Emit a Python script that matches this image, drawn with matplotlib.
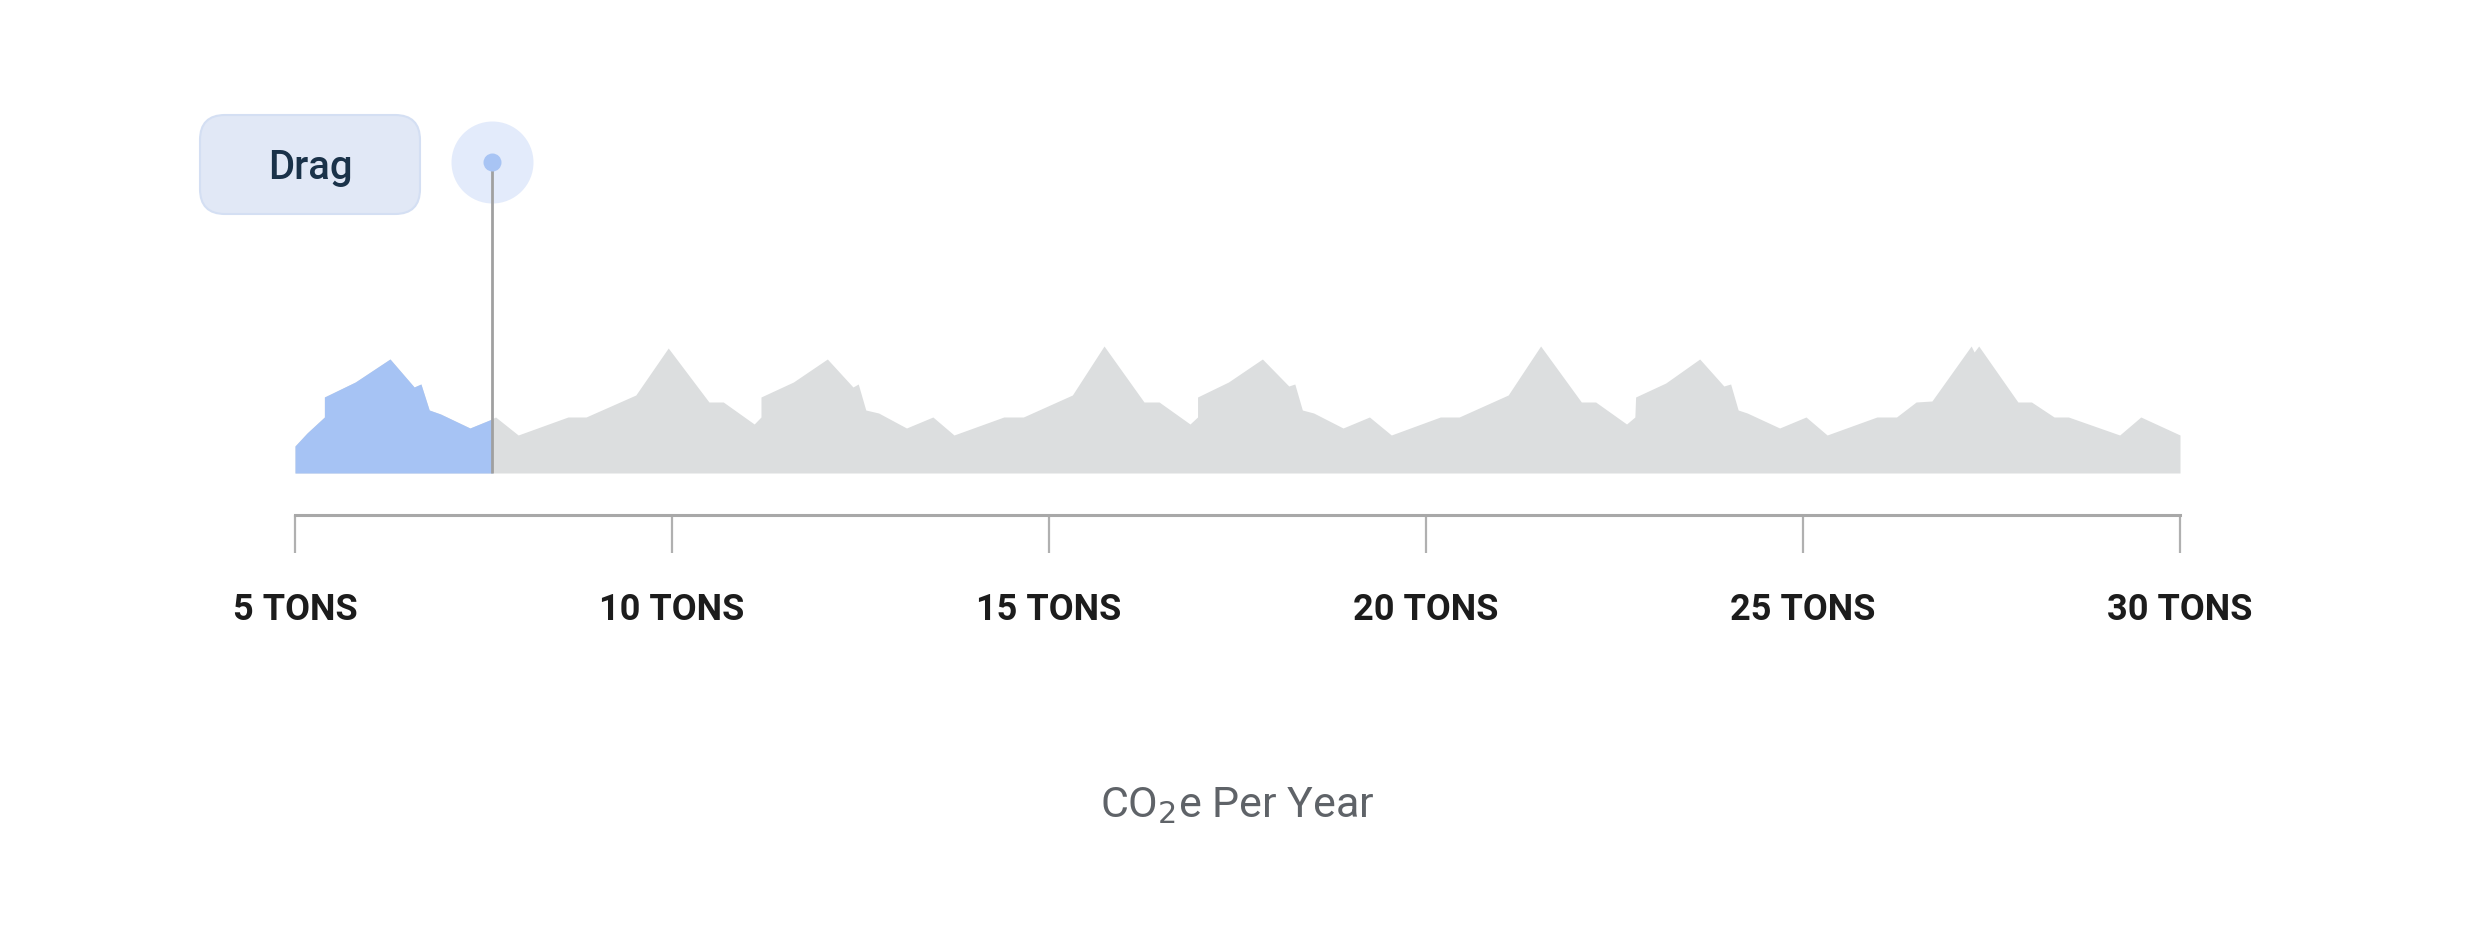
import numpy as np
import matplotlib
matplotlib.use("Agg")
import matplotlib.pyplot as plt
from matplotlib.patches import FancyBboxPatch, Rectangle

# profil de la distribution (tonnes, hauteur relative)
tons = [5.00, 5.16, 5.39, 5.39, 5.80, 6.26, 6.58, 6.67, 6.78, 6.93, 7.32, 7.58, 7.66,
        7.96, 8.62, 8.86, 9.52, 9.95, 10.49, 10.68, 11.09, 11.18, 11.18, 11.61, 12.06,
        12.40, 12.47, 12.57, 12.74, 13.11, 13.46, 13.74, 14.40, 14.66, 15.31, 15.73,
        16.26, 16.46, 16.87, 16.97, 16.97, 17.38, 17.83, 18.18, 18.26, 18.36, 18.51,
        18.90, 19.25, 19.54, 20.19, 20.44, 21.09, 21.52, 22.06, 22.25, 22.66, 22.77,
        22.78, 23.18, 23.63, 23.95, 24.04, 24.14, 24.26, 24.69, 25.04, 25.32, 25.98,
        26.24, 26.50, 26.71, 27.23, 27.27, 27.33, 27.85, 28.03, 28.33, 28.52, 29.20,
        29.48, 30.00]
heights = [27, 40, 56, 76, 91, 114, 86, 89, 63, 59, 45, 53, 56,
           38, 56, 56, 78, 125, 71, 71, 49, 56, 76, 91, 114,
           86, 89, 63, 60, 45, 56, 38, 56, 56, 78, 127,
           71, 71, 49, 56, 76, 91, 114, 87, 89, 63, 60,
           45, 56, 38, 56, 56, 78, 127, 71, 71, 49, 56,
           76, 90, 114, 87, 89, 63, 60, 45, 56, 38, 56,
           56, 71, 72, 127, 121, 127, 71, 71, 56, 56, 38,
           56, 38]
tick_vals = [5, 10, 15, 20, 25, 30]
tick_labels = ["5 TONS", "10 TONS", "15 TONS", "20 TONS", "25 TONS", "30 TONS"]
drag_value = 7.61
xlabel = "CO$_2$e Per Year"

W, H = 2471, 944
fig = plt.figure(figsize=(W / 100, H / 100), dpi=100)
ax = fig.add_axes([295 / W, (H - 515) / H, 1885 / W, 425 / H])
ax.set_xlim(5, 30)
ax.set_ylim(-42, 383)

# aires
ax.fill_between(tons, heights, 0, color="#dcdedf", lw=0, zorder=1)
blue = ax.fill_between(tons, heights, 0, color="#a6c3f4", lw=0, zorder=2)
blue.set_clip_path(Rectangle((5, -1), drag_value - 5, 400, transform=ax.transData))

# curseur
ax.scatter([drag_value], [311], s=(82 * 0.72) ** 2, color="#e3ebfb", lw=0,
           zorder=3, clip_on=False)
ax.plot([drag_value, drag_value], [0, 311], color="#a0a0a0", lw=2.0,
        zorder=4, clip_on=False, solid_capstyle="butt")
ax.scatter([drag_value], [311], s=(18 * 0.72) ** 2, color="#a8c4f4", lw=0,
           zorder=5, clip_on=False)

# bouton "Drag"
sx = 75.4  # pixels par tonne
box = FancyBboxPatch((5 - 95 / sx, 259), 220 / sx, 99,
                     boxstyle="round,pad=0,rounding_size=%f" % (25 / sx),
                     mutation_aspect=sx, facecolor="#e1e8f6", edgecolor="#d4dff3",
                     lw=1.5, clip_on=False, zorder=3)
ax.add_patch(box)
ax.text(5 + 15 / sx, 294, "Drag", ha="center", va="baseline", fontsize=28.8,
        family=["Roboto", "DejaVu Sans"], fontweight="medium", color="#1a3249",
        zorder=4)

# axe
for s in ["left", "right", "top"]:
    ax.spines[s].set_visible(False)
ax.spines["bottom"].set_color("#a8a8a8")
ax.spines["bottom"].set_linewidth(2.2)
ax.set_yticks([])
ax.set_xticks(tick_vals)
ax.set_xticklabels(tick_labels, family=["Roboto", "DejaVu Sans"], fontweight="bold",
                   fontsize=26, color="#1c1c1c")
ax.tick_params(axis="x", direction="out", length=27.4, width=1.6, color="#b0b0b0", pad=28)

plt.rcParams["mathtext.fontset"] = "custom"
plt.rcParams["mathtext.rm"] = "Roboto"
plt.rcParams["mathtext.it"] = "Roboto"
ax.set_xlabel(xlabel, family=["Roboto", "DejaVu Sans"], fontweight="normal",
              fontsize=31, color="#5f6368", va="center")
ax.xaxis.set_label_coords(0.5, (515 - 806) / 425)

fig.savefig("out.png", dpi=100, facecolor="white")
